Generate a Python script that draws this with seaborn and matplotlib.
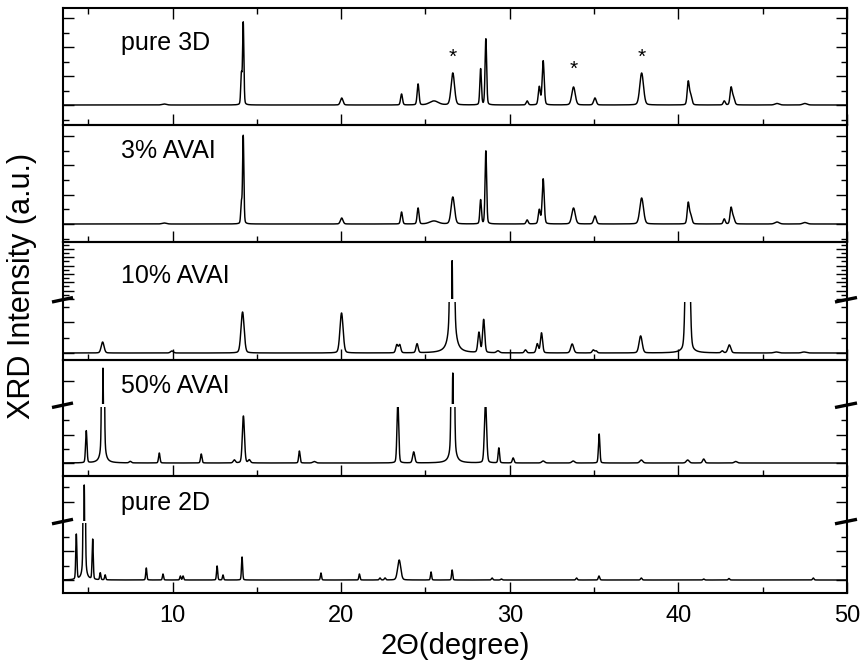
import numpy as np
import pandas as pd
import matplotlib
matplotlib.use("Agg")
import matplotlib.pyplot as plt
from matplotlib.lines import Line2D
from matplotlib.ticker import MultipleLocator, FixedLocator, NullLocator
import seaborn as sns

# ---------------------------------------------------------------
# Peak tables: 2-theta position (deg), height (a.u.), FWHM (deg)
# ---------------------------------------------------------------
pure3d_pos = [9.50, 14.08, 14.19, 20.03, 23.58, 24.56, 25.50, 26.62, 28.27, 28.58,
              31.03, 31.75, 31.98, 33.78, 35.05, 37.82, 40.58, 40.72, 42.72, 43.12,
              43.25, 45.85, 47.50]
pure3d_hgt = [1, 30, 82, 7, 11, 21, 4, 32, 36, 66,
              4, 18, 44, 18, 7, 32, 22, 10, 4, 16,
              8, 1.5, 1.5]
pure3d_fw = [0.30, 0.09, 0.09, 0.18, 0.13, 0.13, 0.60, 0.24, 0.11, 0.11,
             0.14, 0.14, 0.14, 0.24, 0.18, 0.26, 0.14, 0.18, 0.14, 0.14,
             0.18, 0.30, 0.30]

avai3_pos = pure3d_pos
avai3_hgt = [1, 20, 88, 6, 12, 16, 3, 27, 24, 73,
             4, 14, 45, 16, 8, 26, 20, 9, 5, 15,
             7, 2, 1.5]
avai3_fw = pure3d_fw

avai10_pos = [5.85, 9.96, 14.15, 20.02, 23.30, 23.47, 24.50, 26.58, 28.17, 28.45,
              29.30, 30.93, 31.63, 31.88, 33.70, 34.95, 35.12, 37.76, 40.55, 42.60,
              43.02, 45.80, 47.45]
avai10_hgt = [11, 2, 41, 40, 8, 8, 9, 1382, 20, 33,
              2, 3, 9, 20, 9, 3, 2, 17, 300, 2,
              8, 1, 1]
avai10_fw = [0.20, 0.20, 0.22, 0.22, 0.15, 0.15, 0.15, 0.14, 0.15, 0.15,
             0.20, 0.15, 0.15, 0.15, 0.20, 0.15, 0.15, 0.22, 0.21, 0.15,
             0.20, 0.30, 0.30]

avai50_pos = [4.88, 5.87, 7.49, 9.21, 11.70, 13.66, 14.20, 14.55, 17.52, 18.40,
              23.36, 24.30, 26.62, 28.56, 29.35, 30.20, 31.98, 33.76, 35.30, 37.80,
              40.55, 41.50, 43.40]
avai50_hgt = [32, 744, 1.5, 10, 9, 3, 47, 3, 12, 1.5,
              62, 11, 724, 62, 15, 5, 2, 2, 29, 3,
              3, 4, 1.5]
avai50_fw = [0.10, 0.10, 0.15, 0.10, 0.10, 0.15, 0.15, 0.15, 0.10, 0.20,
             0.12, 0.15, 0.12, 0.15, 0.10, 0.12, 0.20, 0.20, 0.10, 0.20,
             0.20, 0.15, 0.20]

pure2d_pos = [4.29, 4.76, 5.26, 5.71, 6.00, 8.44, 9.43, 10.46, 10.62, 12.64,
              12.99, 14.12, 18.80, 21.08, 22.30, 22.60, 23.44, 25.33, 26.58,
              28.95, 29.50, 33.96, 35.29, 37.80, 41.50, 43.00, 48.00]
pure2d_hgt = [45, 742, 40, 7, 5, 12, 6, 4, 4, 14,
              5, 23, 7, 6, 2, 2, 20, 8, 10,
              2, 1, 2, 4, 2, 1, 1.5, 2]
pure2d_fw = [0.08, 0.08, 0.08, 0.08, 0.08, 0.08, 0.08, 0.08, 0.08, 0.08,
             0.08, 0.08, 0.08, 0.08, 0.10, 0.10, 0.22, 0.08, 0.08,
             0.10, 0.10, 0.10, 0.10, 0.10, 0.10, 0.10, 0.10]

sample_names = ["pure 3D", "3% AVAI", "10% AVAI", "50% AVAI", "pure 2D"]
star_pos = [26.62, 33.78, 37.82]
x_ticks = [10, 20, 30, 40, 50]


def pattern(theta, pos, hgt, fw, eta=0.2):
    """Pseudo-Voigt sum of the tabulated reflections."""
    y = np.zeros_like(theta)
    for p, h, w in zip(pos, hgt, fw):
        u = ((theta - p) / w) ** 2
        y += h * (eta / (1 + 4 * u) + (1 - eta) * np.exp(-4 * np.log(2) * u))
    return y


theta = np.arange(3.5, 50.0001, 0.004)
frames = {
    "pure 3D": pattern(theta, pure3d_pos, pure3d_hgt, pure3d_fw),
    "3% AVAI": pattern(theta, avai3_pos, avai3_hgt, avai3_fw),
    "10% AVAI": pattern(theta, avai10_pos, avai10_hgt, avai10_fw),
    "50% AVAI": pattern(theta, avai50_pos, avai50_hgt, avai50_fw),
    "pure 2D": pattern(theta, pure2d_pos, pure2d_hgt, pure2d_fw),
}

# ---------------------------------------------------------------
W, H = 860, 664
sns.set_theme(style="ticks")
plt.rcParams["font.family"] = ["Liberation Sans", "DejaVu Sans"]
plt.rcParams["axes.linewidth"] = 1.5

fig = plt.figure(figsize=(W / 100, H / 100), dpi=100)
X0, X1 = 63, 847


def px_ax(top, bottom):
    return fig.add_axes([X0 / W, 1 - bottom / H, (X1 - X0) / W, (bottom - top) / H])


def draw(ax, name, ylim, major, minor, top_edge, bottom_edge, xlabels=False, xtop=False):
    df = pd.DataFrame({"theta": theta, "I": frames[name]})
    sns.lineplot(data=df, x="theta", y="I", ax=ax, color="black", linewidth=1.05,
                 estimator=None, sort=False)
    ax.set_xlim(3.5, 50)
    ax.set_ylim(*ylim)
    ax.set_xlabel("")
    ax.set_ylabel("")
    ax.xaxis.set_major_locator(FixedLocator(x_ticks))
    ax.xaxis.set_minor_locator(MultipleLocator(5))
    ax.yaxis.set_major_locator(major)
    ax.yaxis.set_minor_locator(minor)
    for s in ("left", "right"):
        ax.spines[s].set_visible(True)
        ax.spines[s].set_color("black")
    ax.spines["top"].set_visible(top_edge)
    ax.spines["bottom"].set_visible(bottom_edge)
    ax.spines["top"].set_color("black")
    ax.spines["bottom"].set_color("black")
    ax.tick_params(axis="y", which="both", direction="in", left=True, right=True,
                   labelleft=False, color="black", width=1.0)
    ax.tick_params(axis="y", which="major", length=8)
    ax.tick_params(axis="y", which="minor", length=4.3)
    ax.tick_params(axis="x", which="both", direction="in", bottom=bottom_edge,
                   top=xtop, labelbottom=xlabels, color="black", labelcolor="black",
                   width=1.0, labelsize=17, pad=9)
    ax.tick_params(axis="x", which="major", length=8)
    ax.tick_params(axis="x", which="minor", length=4.3)
    ax.set_facecolor("none")
    ax.grid(False)


# panel 1
ax1 = px_ax(8, 125)
draw(ax1, "pure 3D", (-20, 97), MultipleLocator(29), MultipleLocator(14.5), True, True, xtop=True)
for xs, yb in zip(star_pos, [42, 30, 42]):
    ax1.text(xs, yb, "*", ha="center", va="baseline", fontsize=15, color="black")

# panel 2
ax2 = px_ax(125, 242)
draw(ax2, "3% AVAI", (-18, 99), MultipleLocator(29.3), MultipleLocator(14.65), True, True)

# panel 3 (broken)
ax3u = px_ax(242, 299)
draw(ax3u, "10% AVAI", (1240, 1451), MultipleLocator(31), MultipleLocator(15.5), True, False)
ax3l = px_ax(301.5, 360)
draw(ax3l, "10% AVAI", (-7, 51.5), MultipleLocator(31), MultipleLocator(15.5), False, True)

# panel 4 (broken)
ax4u = px_ax(360, 404)
draw(ax4u, "50% AVAI", (600, 776), FixedLocator([692]), NullLocator(), True, False)
ax4l = px_ax(406.5, 476)
draw(ax4l, "50% AVAI", (-13, 56.5), MultipleLocator(28.4), MultipleLocator(14.2), False, True)

# panel 5 (broken)
ax5u = px_ax(476, 520.5)
draw(ax5u, "pure 2D", (600, 778), FixedLocator([674]), FixedLocator([734]), True, False)
ax5l = px_ax(523, 593)
draw(ax5l, "pure 2D", (-13, 57), MultipleLocator(28.6), MultipleLocator(14.3), False, True,
     xlabels=True)

# axis-break marks on both sides
for yb in (300.0, 405.5, 521.8):
    for xa, xb in ((52, 73), (835, 857)):
        fig.add_artist(Line2D([xa / W, xb / W], [1 - (yb + 2) / H, 1 - (yb - 2.5) / H],
                              transform=fig.transFigure, color="black", lw=2.4,
                              solid_capstyle="butt"))

# sample labels
for name, yb in zip(sample_names, [50, 158, 283, 393, 510]):
    fig.text(121 / W, 1 - yb / H, name, ha="left", va="baseline", fontsize=18, color="black")

fig.text(455 / W, 1 - 646 / H, "2\u0398(degree)", ha="center", va="center", fontsize=21,
         color="black")
fig.text(22 / W, 1 - 286 / H, "XRD Intensity (a.u.)", ha="center", va="center",
         rotation=90, fontsize=22, color="black")

fig.savefig("out.png", dpi=100, facecolor="white")
